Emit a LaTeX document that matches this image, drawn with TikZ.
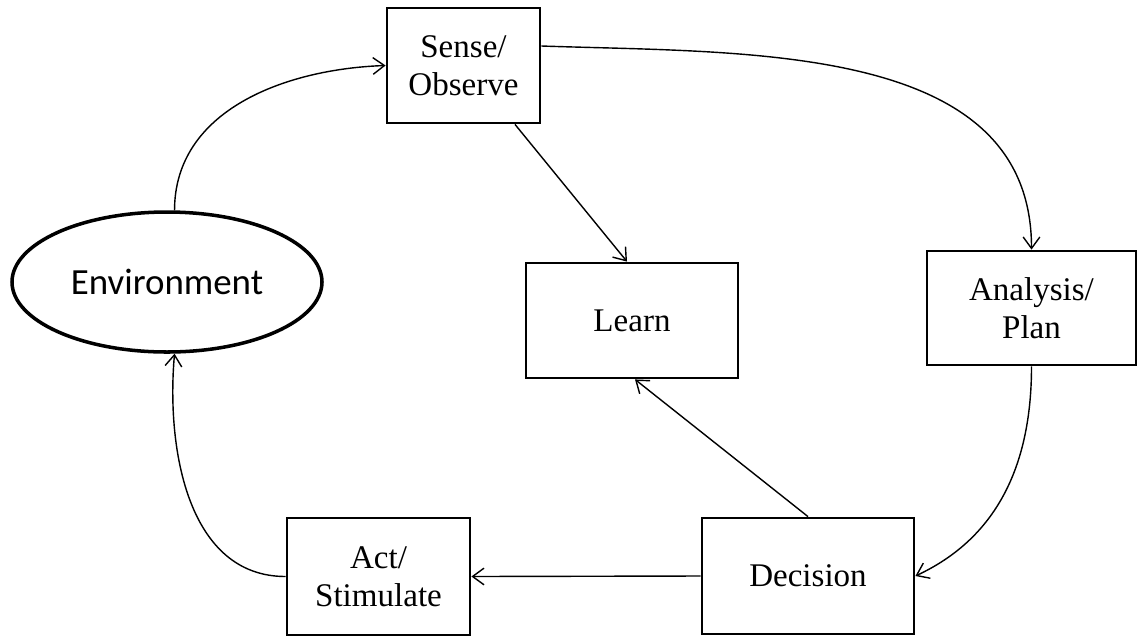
\documentclass[tikz,border=0pt]{standalone}
\usepackage{fontspec}
\setmainfont{Liberation Serif}
\newfontfamily\calibri{Carlito}
\usetikzlibrary{shapes.geometric,arrows.meta}

\begin{document}
\begin{tikzpicture}[
	box/.style={draw, line width=1.6pt, align=center, inner sep=0pt,
		font=\fontsize{18.8}{21.6}\selectfont},
	env/.style={draw, ellipse, line width=2pt, inner sep=0pt,
		minimum width=6.2cm, minimum height=2.8cm,
		font=\calibri\fontsize{21}{25}\selectfont},
	link/.style={line width=0.8pt, -{Straight Barb[length=6.5pt,width=9.5pt]}}
	]
	\useasboundingbox (0,0) rectangle (22.78,-12.72);
	\node[box, minimum width=3.06cm, minimum height=2.3cm] (Sense) at (9.27,-1.31) {Sense/\\Observe};
	\node[box, minimum width=4.24cm, minimum height=2.3cm] (Learn) at (12.64,-6.41) {Learn};
	\node[box, minimum width=4.18cm, minimum height=2.28cm] (Analysis) at (20.63,-6.16) {Analysis/\\Plan};
	\node[env] (Env) at (3.34,-5.64) {Environment};
	\node[box, minimum width=3.66cm, minimum height=2.34cm] (Act) at (7.57,-11.53) {Act/\\Stimulate};
	\node[box, minimum width=4.24cm, minimum height=2.32cm] (Decision) at (16.16,-11.52) {Decision};

	\draw[link] (Env.84) to[out=90, in=182] (Sense.west);
	\draw[link] ([yshift=0.39cm]Sense.east) to[out=-2, in=90] (Analysis.north);
	\draw[link] ([xshift=1.03cm]Sense.south) -- ([xshift=-0.1cm]Learn.north);
	\draw[link] (Analysis.south) to[out=-90, in=25] (Decision.east);
	\draw[link] (Decision.north) -- ([xshift=0.06cm]Learn.south);
	\draw[link] (Decision.west) -- (Act.east);
	\draw[link] (Act.west) to[out=180, in=-95] (Env.-84);
\end{tikzpicture}
\end{document}
